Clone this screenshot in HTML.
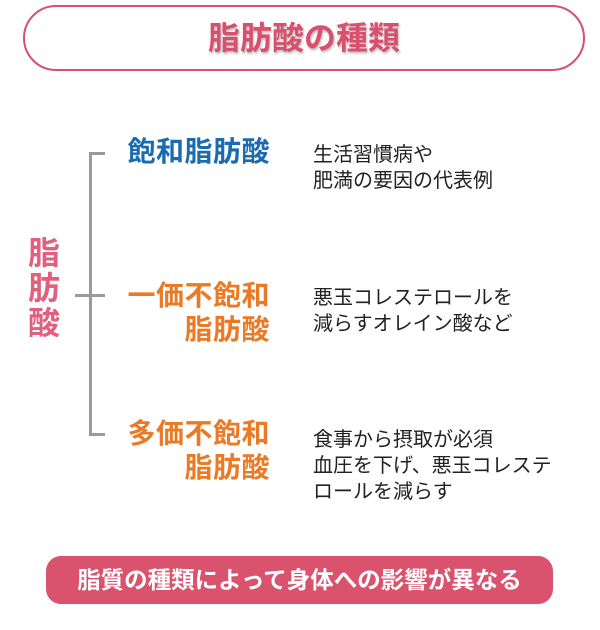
<!DOCTYPE html>
<html><head><meta charset="utf-8"><style>
body{margin:0;width:600px;height:630px;background:#fff;position:relative;overflow:hidden;font-family:"Liberation Sans","Noto Sans CJK JP",sans-serif}
.a{position:absolute;white-space:nowrap}
.t{left:23px;top:5px;width:558px;height:62px;border:2px solid #d6506f;border-radius:34px;text-align:center;line-height:62px;font-size:32px;font-weight:bold;color:#d9506f;text-shadow:1px 2px 2px rgba(0,0,0,.25)}
.l{background:#9a9a9a}
.h{font-size:28px;font-weight:bold;line-height:34px;text-align:right;width:170px;left:100px;letter-spacing:0.5px}
.d{font-size:20px;line-height:26px;color:#222;left:313px}
.b{left:46px;top:556px;width:507px;height:48px;border-radius:15px;background:#d9536f;color:#fff;text-align:center;line-height:48px;font-size:23.5px;font-weight:bold}
</style></head><body>
<div class="a t">脂肪酸の種類</div>
<div class="a l" style="left:89px;top:152px;width:3px;height:284px"></div>
<div class="a l" style="left:89px;top:152px;width:16px;height:3px"></div>
<div class="a l" style="left:89px;top:433px;width:16px;height:3px"></div>
<div class="a l" style="left:75px;top:294px;width:30px;height:3px"></div>
<div class="a" style="left:28px;top:236px;width:34px;font-size:32px;line-height:35px;font-weight:bold;color:#e0607e;white-space:normal">脂肪酸</div>
<div class="a h" style="top:135px;color:#1a6bb0">飽和脂肪酸</div>
<div class="a h" style="top:279px;color:#ea7a26">一価不飽和<br>脂肪酸</div>
<div class="a h" style="top:417px;color:#ea7a26">多価不飽和<br>脂肪酸</div>
<div class="a d" style="top:142px">生活習慣病や<br>肥満の要因の代表例</div>
<div class="a d" style="top:285px">悪玉コレステロールを<br>減らすオレイン酸など</div>
<div class="a d" style="top:427px">食事から摂取が必須<br>血圧を下げ、悪玉コレステ<br>ロールを減らす</div>
<div class="a b">脂質の種類によって身体への影響が異なる</div>
</body></html>
